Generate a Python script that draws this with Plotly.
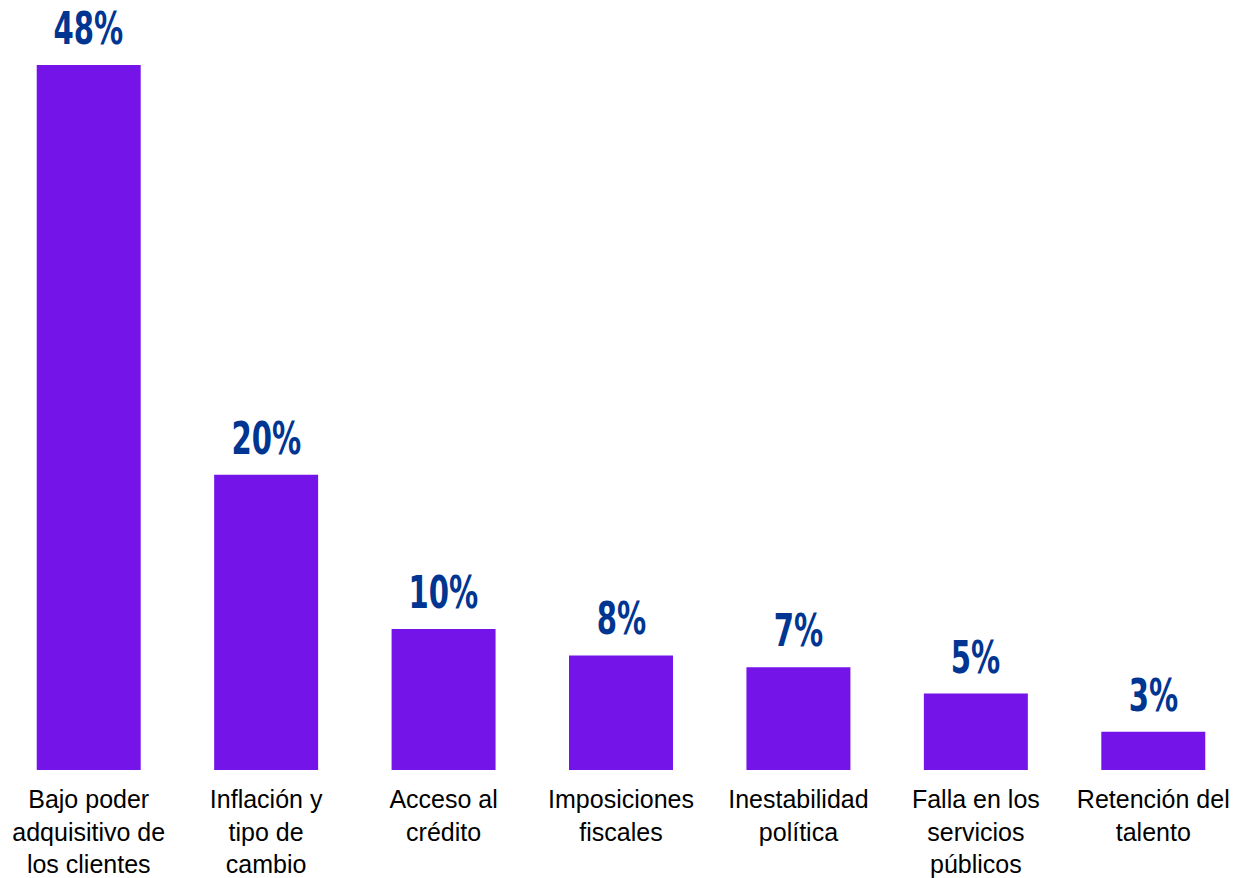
import plotly.graph_objects as go

categories = [
    "Bajo poder<br>adquisitivo de<br>los clientes",
    "Inflación y<br>tipo de<br>cambio",
    "Acceso al<br>crédito",
    "Imposiciones<br>fiscales",
    "Inestabilidad<br>política",
    "Falla en los<br>servicios<br>públicos",
    "Retención del<br>talento",
]
values = [48.0, 20.1, 9.6, 7.8, 7.0, 5.2, 2.6]
labels = ["48%", "20%", "10%", "8%", "7%", "5%", "3%"]

bar_color = "#7514E8"
label_color = "#003591"

fig = go.Figure()
fig.add_trace(go.Bar(
    x=categories, y=values, marker=dict(color=bar_color, line=dict(width=0)),
    hoverinfo="skip",
))

for c, v, t in zip(categories, values, labels):
    fig.add_annotation(
        x=c, y=v, text=t, showarrow=False, yanchor="bottom", yshift=8,
        font=dict(family="DejaVu Sans Condensed, DejaVu Sans, sans-serif",
                  size=45, color=label_color, weight="bold"),
    )

fig.update_layout(
    width=1260, height=878,
    margin=dict(l=0, r=18, t=20, b=108, autoexpand=False),
    paper_bgcolor="white", plot_bgcolor="white",
    bargap=0.414, showlegend=False,
    xaxis=dict(showgrid=False, showline=False, ticks="", ticklabelstandoff=12,
               automargin=False,
               tickfont=dict(family="Liberation Sans, Arial, sans-serif", size=25, color="black")),
    yaxis=dict(visible=False, range=[0, 51.06], automargin=False),
)

# Narrow the bold value labels horizontally (condensed display face look)
post_script = """
document.querySelectorAll('.annotation-text').forEach(function(t){
  t.style.transformBox = 'fill-box';
  t.style.transformOrigin = 'center';
  t.style.transform = 'scaleX(0.72)';
});
"""

fig.write_html("out.html", post_script=post_script)
